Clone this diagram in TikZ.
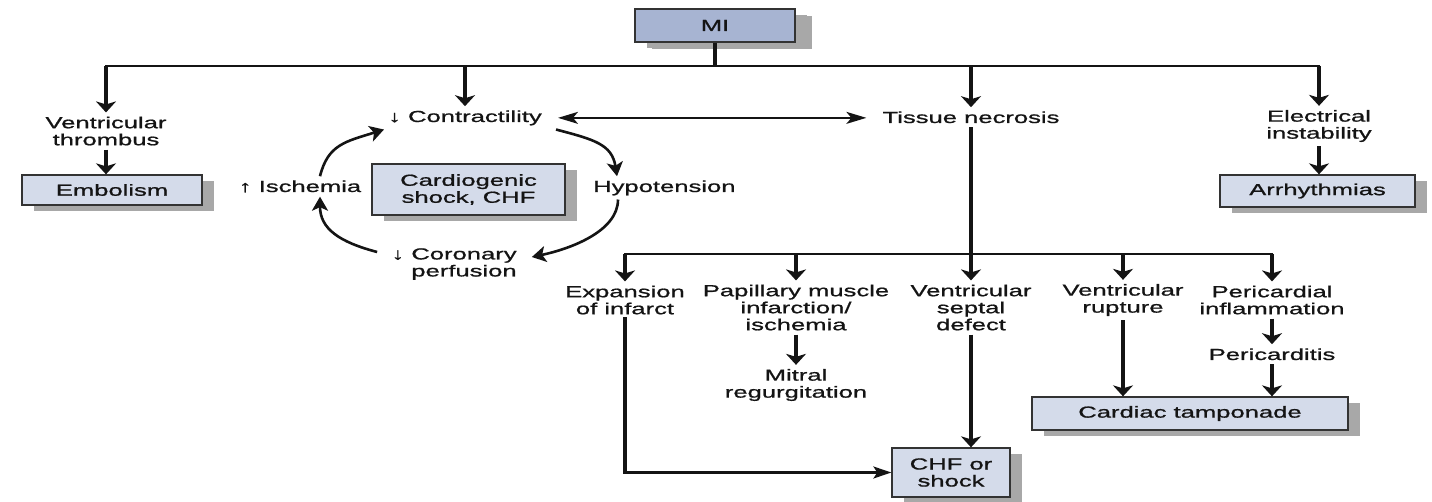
\documentclass[tikz,border=0pt]{standalone}
\usepackage{fontspec}
\setmainfont{Liberation Sans}[FakeStretch=1.6,FakeBold=1.0]
\usetikzlibrary{arrows.meta,shadows}
\definecolor{boxfill}{HTML}{D4DBEA}
\definecolor{mifill}{HTML}{A7B4D2}
\definecolor{shadowgray}{HTML}{A8A8A8}
\definecolor{inkc}{HTML}{141414}
\begin{document}
\begin{tikzpicture}[x=1pt,y=-1pt,
  every node/.style={font=\fontsize{16}{17}\selectfont,text=inkc},
  lbl/.style={align=center,inner sep=4pt},
  boxnode/.style={draw=black!80,line width=1.3pt,fill=boxfill,align=center,inner sep=2pt,
    drop shadow={shadow xshift=12pt,shadow yshift=-6pt,fill=shadowgray,opacity=1}},
  vline/.style={line width=3.4pt,draw=inkc},
  hline/.style={line width=2.2pt,line cap=rect,draw=inkc},
  varr/.style={vline,-{Stealth[length=11pt,width=20pt,inset=3pt]}},
  harr/.style={line width=2.2pt,draw=inkc,-{Stealth[length=18pt,width=12pt,inset=4pt]}},
  carr/.style={line width=2.6pt,draw=inkc,-{Stealth[length=14pt,width=16pt,inset=3.5pt]}},
  dbl/.style={line width=1.6pt,draw=inkc,{Stealth[length=20pt,width=12pt,inset=5pt]}-{Stealth[length=20pt,width=12pt,inset=5pt]}}
]
\useasboundingbox (0,0) rectangle (1432,502);

% boxes
\node[boxnode,fill=mifill,minimum width=160pt,minimum height=33pt,
  drop shadow={shadow xshift=17pt,shadow yshift=-7pt,fill=shadowgray,opacity=1}] (mi) at (715,25.5) {MI};
\node[boxnode,minimum width=180pt,minimum height=30pt] (emb) at (112,190) {Embolism};
\node[boxnode,minimum width=193pt,minimum height=51pt] (cs) at (468.5,189.5) {Cardiogenic\\shock, CHF};
\node[boxnode,minimum width=195pt,minimum height=32pt] (arrh) at (1317.5,191) {Arrhythmias};
\node[boxnode,minimum width=316pt,minimum height=33pt] (ct) at (1190,413.5) {Cardiac tamponade};
\node[boxnode,minimum width=118pt,minimum height=49pt] (chf) at (951,472.5) {CHF or\\shock};

% text labels
\node[lbl] (vt) at (106,131) {Ventricular\\thrombus};
\node[lbl,anchor=base] (contr) at (465,122) {↓ Contractility};
\node[lbl,anchor=base] (tn) at (971,123) {Tissue necrosis};
\node[lbl] (ei) at (1319,126) {Electrical\\instability};
\node[lbl,anchor=base] (isch) at (300,192) {↑ Ischemia};
\node[lbl,anchor=base west] (hyp) at (589,192) {Hypotension};
\node[lbl] (cor) at (464,264) {\llap{↓ }Coronary\\perfusion};

\node[lbl] (exp) at (625,300) {Expansion\\of infarct};
\node[lbl] (pap) at (796,307.5) {Papillary muscle\\infarction/\\ischemia};
\node[lbl] (vsd) at (971,307.5) {Ventricular\\septal\\defect};
\node[lbl] (vr) at (1123,300) {Ventricular\\rupture};
\node[lbl] (pi) at (1272,300) {Pericardial\\inflammation};
\node[lbl] (mr) at (796,385) {Mitral\\regurgitation};
\node[lbl,anchor=base] (pc) at (1272,360) {Pericarditis};

\coordinate (top) at (0,66);
\coordinate (mid) at (0,254);

% top branching
\draw[vline] (mi.south) -- (mi.south |- top);
\draw[hline] (vt.north |- top) -- (ei.north |- top);
\foreach \n in {vt,contr,tn,ei} \draw[varr] (\n.north |- top) -- (\n.north);
\draw[varr] (vt.south) -- (vt.south |- emb.north);
\draw[varr] (ei.south) -- (ei.south |- arrh.north);
\draw[dbl,shorten <=12pt,shorten >=12pt] (contr.east) -- (contr.east -| tn.west);

% cycle
\draw[carr] ([xshift=20pt]isch.north) .. controls +(8,-32) and +(-38,12) .. (contr.south west);
\draw[carr] ([xshift=10pt]contr.south east) .. controls +(38,10) and +(-5,-32) .. ([xshift=28pt]hyp.north west);
\draw[carr] ([xshift=29pt]hyp.south west) .. controls +(0,32) and +(38,-8) .. ([xshift=11pt,yshift=7pt]cor.east);
\draw[carr] ([xshift=-30pt,yshift=12pt]cor.west) .. controls +(-38,-10) and +(0,32) .. ([xshift=20pt]isch.south);

% lower branching
\draw[vline] (tn.south) -- (tn.south |- mid);
\draw[hline] (exp.north |- mid) -- (pi.north |- mid);
\foreach \n in {exp,pap,vsd,vr,pi} \draw[varr] (\n.north |- mid) -- (\n.north);
\coordinate (bend) at (exp.south |- chf.west);
\draw[vline,line cap=rect] (exp.south) -- (bend);
\draw[harr] (bend) -- (chf.west);
\draw[varr] (pap.south) -- (pap.south |- mr.north);
\draw[varr] (vsd.south) -- (vsd.south |- chf.north);
\draw[varr] (vr.south) -- (vr.south |- ct.north);
\draw[varr] (pi.south) -- (pc.north);
\draw[varr] (pc.south) -- (pc.south |- ct.north);
\end{tikzpicture}
\end{document}
